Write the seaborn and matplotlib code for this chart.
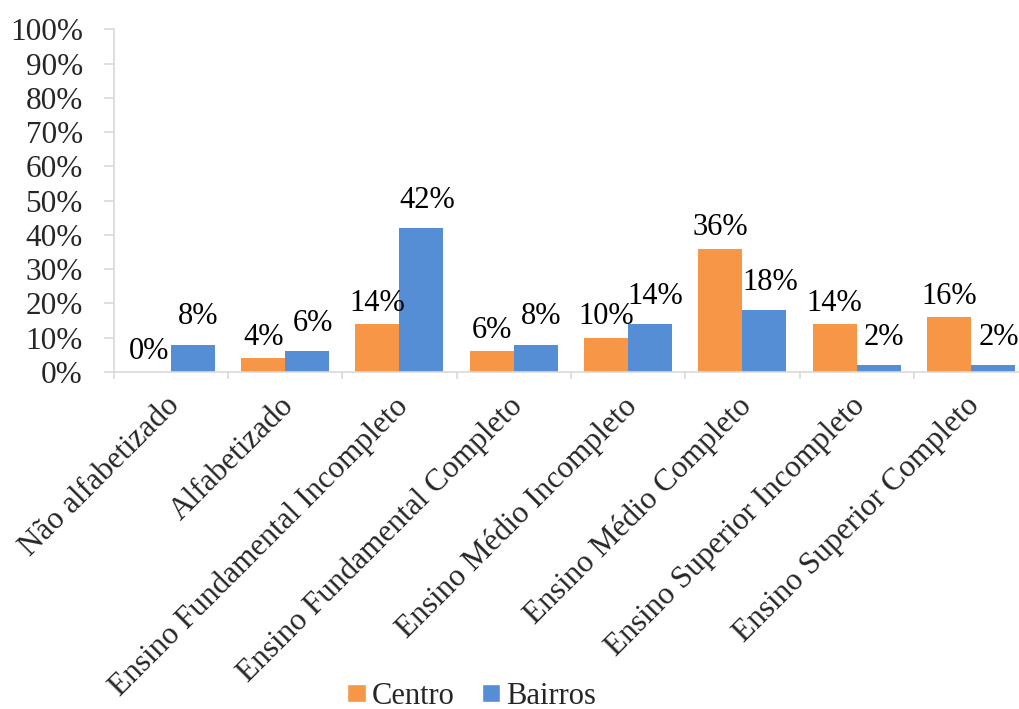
import matplotlib
matplotlib.use("Agg")
import matplotlib.pyplot as plt
import matplotlib.transforms as mtransforms
import seaborn as sns
import pandas as pd
from matplotlib.patches import Patch

categories = ["Não alfabetizado", "Alfabetizado", "Ensino Fundamental Incompleto",
              "Ensino Fundamental Completo", "Ensino Médio Incompleto",
              "Ensino Médio Completo", "Ensino Superior Incompleto",
              "Ensino Superior Completo"]
centro = [0, 4, 14, 6, 10, 36, 14, 16]
bairros = [8, 6, 42, 8, 14, 18, 2, 2]
series = ["Centro", "Bairros"]
yticks = list(range(0, 101, 10))

colors = {"Centro": "#F79646", "Bairros": "#558ED5"}
FS = 22.5
FS_LAB = 22

df = pd.DataFrame({
    "cat": categories * 2,
    "serie": ["Centro"] * len(categories) + ["Bairros"] * len(categories),
    "val": centro + bairros,
})

sns.set_theme(style="white")
plt.rcParams["font.family"] = ["Liberation Serif", "DejaVu Serif"]

fig = plt.figure(figsize=(10.19, 7.09), dpi=100)
ax = fig.add_axes([0.1116, 0.4753, 0.8974, 0.4834])

sns.barplot(data=df, x="cat", y="val", hue="serie", order=categories,
            hue_order=series, palette=colors, width=0.77, ax=ax,
            legend=False, saturation=1, linewidth=0)

# label offsets per series (points): (dx, dy)
label_offsets = {"Centro": (0, 4.5), "Bairros": (4, 9.5)}
for cont, s in zip(ax.containers, series):
    anns = ax.bar_label(cont, labels=[f"{v:.0f}%" for v in cont.datavalues],
                        fontsize=FS_LAB, color="black")
    for a in anns:
        a.xyann = label_offsets[s]

ax.set_ylim(0, 100)
ax.set_xlim(-0.5, len(categories) - 0.5)
ax.set_yticks(yticks)
ax.set_yticklabels([f"{t}%" for t in yticks], fontsize=FS)
ax.set_xticks(range(len(categories)))
ax.set_xticklabels(categories, rotation=45, ha="right", va="top",
                   rotation_mode="anchor", fontsize=FS)
ax.set_xlabel("")
ax.set_ylabel("")

# category boundary ticks on x axis
ax.set_xticks([i - 0.5 for i in range(len(categories) + 1)], minor=True)
ax.tick_params(axis="x", which="major", length=0, pad=14)
ax.tick_params(axis="x", which="minor", length=5, color="#D9D9D9", width=1.2,
               bottom=True)
ax.tick_params(axis="y", which="major", length=7.2, color="#D9D9D9", width=1.2,
               left=True, pad=15)

shift = mtransforms.ScaledTranslation(-0.06, 0, fig.dpi_scale_trans)
for lab in ax.get_xticklabels():
    lab.set_transform(lab.get_transform() + shift)

for s in ["top", "right"]:
    ax.spines[s].set_visible(False)
for s in ["left", "bottom"]:
    ax.spines[s].set_color("#D9D9D9")
    ax.spines[s].set_linewidth(1.2)

handles = [Patch(facecolor=colors[s], label=s) for s in series]
fig.legend(handles=handles, loc="center", bbox_to_anchor=(0.463, 0.018),
           ncol=2, frameon=False, fontsize=22, handlelength=0.6,
           handleheight=0.5, handletextpad=0.2, columnspacing=0.9,
           borderpad=0)

fig.savefig("out.png", dpi=100)
